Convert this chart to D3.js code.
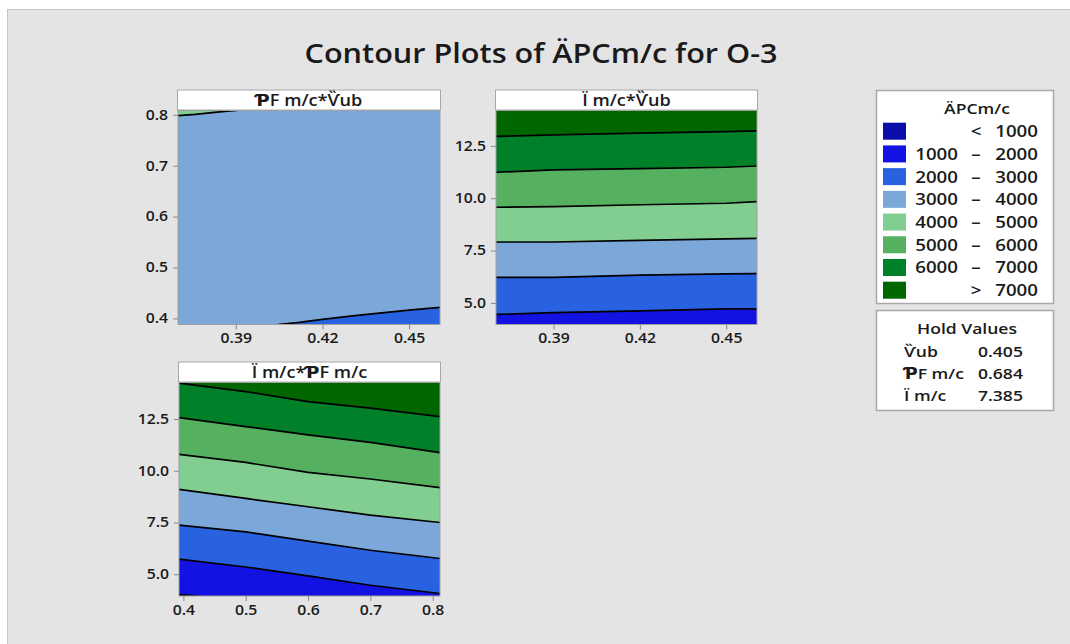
<!DOCTYPE html>
<html>
<head>
<meta charset="utf-8">
<script src="https://cdn.jsdelivr.net/npm/d3@7"></script>
<style>
  html, body { margin: 0; padding: 0; background: #fff; }
  svg text { font-family: "Open Sans", "DejaVu Sans", sans-serif; fill: #1a1a1a; }
</style>
</head>
<body>
<div id="chart"></div>
<script>
// Légende / niveaux
const levels = [1000, 2000, 3000, 4000, 5000, 6000, 7000];
const bandColors = ["#0c0ca8", "#1212e2", "#2862e0", "#7ba7d9", "#82cd90", "#55b160", "#008028", "#006600"];
const legendLow = ["", "1000", "2000", "3000", "4000", "5000", "6000", ""];
const legendSep = ["<", "–", "–", "–", "–", "–", "–", ">"];
const legendHigh = ["1000", "2000", "3000", "4000", "5000", "6000", "7000", "7000"];

const holdNames = ["Ѷub", "ƤF m/c", "Ï m/c"];
const holdValues = ["0.405", "0.684", "7.385"];

// Panneau 1 : ƤF m/c * Ѷub
const p1XTicks = [0.39, 0.42, 0.45];
const p1YTicks = [0.4, 0.5, 0.6, 0.7, 0.8];
const p1Line4000 = [[0.370, 0.7986], [0.3760, 0.8010], [0.3835, 0.8053], [0.3880, 0.8075], [0.3905, 0.8085]];
const p1Line3000 = [[0.4046, 0.388], [0.4120, 0.3920], [0.4200, 0.3980], [0.4320, 0.4060], [0.4500, 0.4163], [0.4607, 0.4217]];

// Panneau 2 : Ï m/c * Ѷub
const p2X = [0.370, 0.39, 0.42, 0.45, 0.4607];
const p2Lines = {
  2000: [4.45, 4.54, 4.62, 4.72, 4.72],
  3000: [6.22, 6.22, 6.33, 6.39, 6.40],
  4000: [7.91, 7.91, 7.99, 8.06, 8.08],
  5000: [9.57, 9.60, 9.69, 9.76, 9.84],
  6000: [11.24, 11.35, 11.41, 11.48, 11.54],
  7000: [12.95, 13.03, 13.11, 13.18, 13.22]
};
const p2YTicks = [5.0, 7.5, 10.0, 12.5];

// Panneau 3 : Ï m/c * ƤF m/c
const p3X = [0.393, 0.5, 0.6, 0.7, 0.8117];
const p3Lines = {
  2000: [5.73, 5.35, 4.92, 4.47, 4.07],
  3000: [7.37, 7.05, 6.60, 6.16, 5.76],
  4000: [9.10, 8.66, 8.26, 7.86, 7.50],
  5000: [10.79, 10.40, 9.92, 9.60, 9.18],
  6000: [12.56, 12.13, 11.73, 11.37, 10.87],
  7000: [14.23, 13.82, 13.34, 13.02, 12.61]
};
const p3Line1000 = [[0.393, 4.02], [0.425, 3.95]];
const p3XTicks = [0.4, 0.5, 0.6, 0.7, 0.8];
const p3YTicks = [5.0, 7.5, 10.0, 12.5];

const width = 1070, height = 644;
const sx = 1.17; // texte un peu étiré comme l'original

const svg = d3.select("#chart").append("svg")
  .attr("width", width).attr("height", height);

// petit utilitaire texte étiré
function label(parent, x, y, str, size, anchor) {
  return parent.append("g")
    .attr("transform", `translate(${x},${y}) scale(${sx},1)`)
    .append("text")
    .attr("text-anchor", anchor || "start")
    .attr("font-size", size + "px")
    .attr("font-weight", 600)
    .text(str);
}

// fond
svg.append("rect")
  .attr("x", 7.5).attr("y", 9.5)
  .attr("width", width).attr("height", height)
  .attr("fill", "#e4e4e4").attr("stroke", "#c6c6c6");

svg.append("text")
  .attr("x", 541).attr("y", 63)
  .attr("text-anchor", "middle")
  .attr("font-size", "27px")
  .attr("font-weight", 600)
  .attr("textLength", 473)
  .attr("lengthAdjust", "spacingAndGlyphs")
  .text("Contour Plots of ÄPCm/c for O-3");

const colorAbove = lv => bandColors[levels.indexOf(lv) + 1];
const colorBelow = lv => bandColors[levels.indexOf(lv)];

function panel(cfg) {
  const x = d3.scaleLinear().domain(cfg.xDomain).range([cfg.left, cfg.right]);
  const y = d3.scaleLinear().domain(cfg.yDomain).range([cfg.bottom, cfg.top]);
  const g = svg.append("g");

  // en-tête
  g.append("rect")
    .attr("x", cfg.left - 0.5).attr("y", cfg.top - 20.5)
    .attr("width", cfg.right - cfg.left + 1).attr("height", 20)
    .attr("fill", "#fff").attr("stroke", "#a8a8a8");
  label(g, (cfg.left + cfg.right) / 2, cfg.top - 5, cfg.title, 15.5, "middle");

  const clipId = "clip" + cfg.id;
  svg.append("clipPath").attr("id", clipId)
    .append("rect")
    .attr("x", cfg.left).attr("y", cfg.top)
    .attr("width", cfg.right - cfg.left).attr("height", cfg.bottom - cfg.top);

  const plot = g.append("g").attr("clip-path", `url(#${clipId})`);
  plot.append("rect")
    .attr("x", cfg.left).attr("y", cfg.top)
    .attr("width", cfg.right - cfg.left).attr("height", cfg.bottom - cfg.top)
    .attr("fill", cfg.base);

  cfg.lines.forEach(l => {
    const area = d3.area()
      .x(d => x(d[0]))
      .y0(d => y(d[1]))
      .y1(l.side === "above" ? cfg.top - 2 : cfg.bottom + 2);
    plot.append("path")
      .attr("d", area(l.pts))
      .attr("fill", l.side === "above" ? colorAbove(l.level) : colorBelow(l.level));
  });

  const line = d3.line().x(d => x(d[0])).y(d => y(d[1]));
  cfg.lines.forEach(l => {
    plot.append("path")
      .attr("d", line(l.pts))
      .attr("fill", "none")
      .attr("stroke", "#000")
      .attr("stroke-width", 1.7);
  });

  g.append("rect")
    .attr("x", cfg.left).attr("y", cfg.top)
    .attr("width", cfg.right - cfg.left).attr("height", cfg.bottom - cfg.top)
    .attr("fill", "none").attr("stroke", "#a0a0a0");

  const xAxis = g.append("g")
    .attr("transform", `translate(0,${cfg.bottom})`)
    .call(d3.axisBottom(x).tickValues(cfg.xTicks).tickSize(5).tickPadding(4).tickFormat(d3.format(cfg.xFmt)));
  const yAxis = g.append("g")
    .attr("transform", `translate(${cfg.left},0)`)
    .call(d3.axisLeft(y).tickValues(cfg.yTicks).tickSize(5).tickPadding(3.5).tickFormat(d3.format(cfg.yFmt)));
  [xAxis, yAxis].forEach(a => {
    a.select(".domain").remove();
    a.selectAll(".tick line").attr("stroke", "#888");
    a.selectAll(".tick text")
      .attr("font-family", '"Open Sans", sans-serif')
      .attr("font-size", "13.5px").attr("font-weight", 600)
      .attr("fill", "#1a1a1a")
      .attr("transform", `scale(${sx},1)`);
  });
}

const asPts = (xs, ys) => xs.map((v, i) => [v, ys[i]]);

panel({
  id: 1, title: "ƤF m/c*Ѷub",
  left: 178, right: 440, top: 110.5, bottom: 324.5,
  xDomain: [0.370, 0.4607], yDomain: [0.388, 0.8085],
  xTicks: p1XTicks, yTicks: p1YTicks, xFmt: ".2f", yFmt: ".1f",
  base: bandColors[3],
  lines: [
    { level: 4000, side: "above", pts: p1Line4000 },
    { level: 3000, side: "below", pts: p1Line3000 }
  ]
});

panel({
  id: 2, title: "Ï m/c*Ѷub",
  left: 496, right: 757, top: 110.5, bottom: 324.5,
  xDomain: [0.370, 0.4607], yDomain: [3.97, 14.19],
  xTicks: p1XTicks, yTicks: p2YTicks, xFmt: ".2f", yFmt: ".1f",
  base: bandColors[1],
  lines: Object.keys(p2Lines).map(k => ({ level: +k, side: "above", pts: asPts(p2X, p2Lines[k]) }))
});

panel({
  id: 3, title: "Ï m/c*ƤF m/c",
  left: 179, right: 440, top: 382.5, bottom: 596,
  xDomain: [0.393, 0.8117], yDomain: [3.95, 14.26],
  xTicks: p3XTicks, yTicks: p3YTicks, xFmt: ".1f", yFmt: ".1f",
  base: bandColors[1],
  lines: Object.keys(p3Lines).map(k => ({ level: +k, side: "above", pts: asPts(p3X, p3Lines[k]) }))
    .concat([{ level: 1000, side: "below", pts: p3Line1000 }])
});

// Légende
const leg = svg.append("g");
leg.append("rect")
  .attr("x", 876.5).attr("y", 90.5).attr("width", 177).attr("height", 213)
  .attr("fill", "#fff").attr("stroke", "#a8a8a8").attr("stroke-width", 1.5);
label(leg, 977, 114, "ÄPCm/c", 15, "middle");

const rowY = d3.scaleLinear().domain([0, 7]).range([122.7, 281.7]);
bandColors.forEach((c, i) => {
  const r = leg.append("g").attr("transform", `translate(0, ${rowY(i)})`);
  r.append("rect")
    .attr("x", 883).attr("y", 0)
    .attr("width", 23).attr("height", 17)
    .attr("fill", c);
  label(r, 958, 14.5, legendLow[i], 16, "end");
  label(r, 976, 14.5, legendSep[i], 16, "middle");
  label(r, 1038, 14.5, legendHigh[i], 16, "end");
});

// Valeurs fixes
const hold = svg.append("g");
hold.append("rect")
  .attr("x", 876.5).attr("y", 310.5).attr("width", 177).attr("height", 100)
  .attr("fill", "#fff").attr("stroke", "#a8a8a8").attr("stroke-width", 1.5);
label(hold, 967, 334, "Hold Values", 15, "middle");
holdNames.forEach((n, i) => {
  label(hold, 904, 356.5 + i * 22, n, 15, "start");
  label(hold, 978, 356.5 + i * 22, holdValues[i], 15, "start");
});
</script>
</body>
</html>
